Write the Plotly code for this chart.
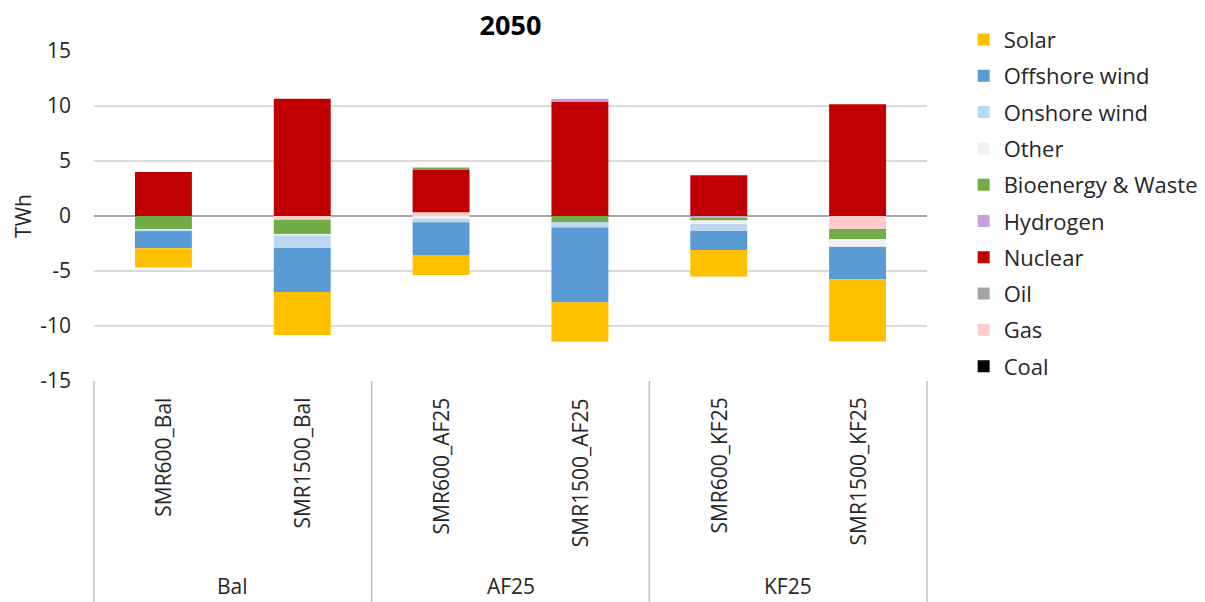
import plotly.graph_objects as go

# Scenario columns, grouped by pathway
scenarios = ["SMR600_Bal", "SMR1500_Bal", "SMR600_AF25", "SMR1500_AF25", "SMR600_KF25", "SMR1500_KF25"]
groups = ["Bal", "AF25", "KF25"]

# Change in generation per technology (TWh), one value per scenario
coal = [0, 0, 0, 0, 0, 0]
gas = [0, -0.35, 0.33, 0, 0, -1.18]
oil = [0, 0, 0, 0, 0, 0]
nuclear = [4.0, 10.65, 3.9, 10.4, 3.7, 10.15]
hydrogen = [0, 0, 0, 0.25, -0.22, 0]
bioenergy = [-1.2, -1.3, 0.19, -0.55, -0.18, -0.91]
other = [-0.1, -0.12, -0.22, 0, -0.33, -0.7]
onshore = [-0.08, -1.15, -0.35, -0.5, -0.63, 0]
offshore = [-1.55, -4.0, -2.98, -6.8, -1.73, -2.96]
solar = [-1.76, -3.9, -1.81, -3.58, -2.42, -5.67]

# Y axis ticks
y_ticks = [-15, -10, -5, 0, 5, 10, 15]
y_tick_text = ["-15", "-10", "-5", "0", "5", "10", "15"]

# Stacking order (first = nearest the zero line)
series = [
    ("Coal", coal, "#000000"),
    ("Gas", gas, "#FFCCCC"),
    ("Oil", oil, "#A5A5A5"),
    ("Nuclear", nuclear, "#C00000"),
    ("Hydrogen", hydrogen, "#C9A0DC"),
    ("Bioenergy & Waste", bioenergy, "#70AD47"),
    ("Other", other, "#F2F2F2"),
    ("Onshore wind", onshore, "#BDD7EE"),
    ("Offshore wind", offshore, "#5B9BD5"),
    ("Solar", solar, "#FFC000"),
]

FONT = "Open Sans"
TXT = "#262626"

fig = go.Figure()
n = len(series)
for i, (name, vals, col) in enumerate(series):
    fig.add_trace(go.Bar(
        x=scenarios, y=vals, name=name, legendgroup=name,
        legendrank=n - i,  # legend lists the top of the stack first
        marker=dict(color=col, line=dict(width=0)),
    ))

annotations = []
# Rotated scenario labels under each column
for s in scenarios:
    annotations.append(dict(
        x=s, xref="x", y=-0.045, yref="paper", text=s, textangle=-90,
        showarrow=False, xanchor="center", yanchor="top",
        font=dict(family=FONT, size=21, color=TXT),
    ))
# Pathway group labels
for i, g in enumerate(groups):
    annotations.append(dict(
        x=(i + 0.5) / 3, xref="paper", y=-0.622, yref="paper", text=g,
        showarrow=False, xanchor="center", yanchor="middle",
        font=dict(family=FONT, size=21, color=TXT),
    ))

# Category box lines below the plot
shapes = []
for i in range(4):
    shapes.append(dict(
        type="line", xref="paper", yref="paper", x0=i / 3, x1=i / 3,
        y0=0, y1=-0.67, line=dict(color="#BFBFBF", width=1.5),
    ))

fig.update_layout(
    width=1205, height=602,
    margin=dict(l=94, r=278, t=51, b=221, autoexpand=False),
    paper_bgcolor="white", plot_bgcolor="white",
    barmode="relative", bargap=0.59,
    title=dict(text="<b>2050</b>", x=(94 + 927) / 2 / 1205, xanchor="center",
               y=1 - 26 / 602, yanchor="middle",
               font=dict(family=FONT, size=27, color="#000000")),
    font=dict(family=FONT, size=21, color=TXT),
    xaxis=dict(showticklabels=False, showgrid=False, showline=False, ticks=""),
    yaxis=dict(
        range=[-15, 15], tickvals=y_ticks, ticktext=y_tick_text, showgrid=True,
        gridcolor="#D9D9D9", gridwidth=1.5,
        zeroline=True, zerolinecolor="#A6A6A6", zerolinewidth=2,
        showline=False, ticks="", ticklabelstandoff=22,
        tickfont=dict(family=FONT, size=21, color=TXT),
        title=dict(text="TWh", standoff=2, font=dict(family=FONT, size=21, color=TXT)),
    ),
    legend=dict(
        x=1.044, xanchor="left", y=1.098, yanchor="top", maxheight=560,
        traceorder="grouped", tracegroupgap=4.7,
        font=dict(family=FONT, size=22, color=TXT),
        itemclick=False,
    ),
    annotations=annotations,
    shapes=shapes,
)

fig.write_html("out.html")
